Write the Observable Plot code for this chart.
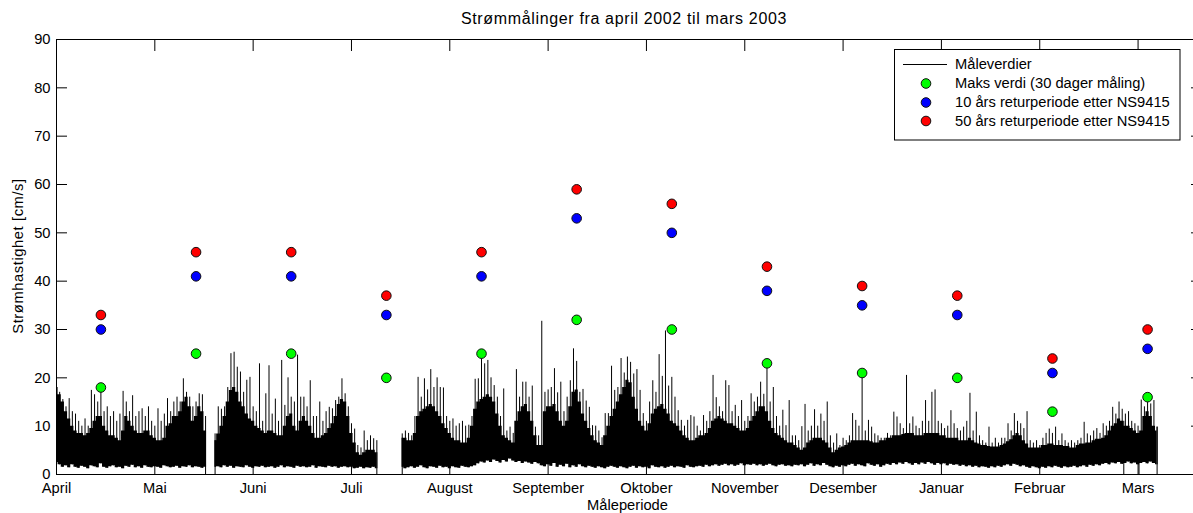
<!DOCTYPE html>
<html>
<head>
<meta charset="utf-8">
<script src="https://cdn.jsdelivr.net/npm/d3@7"></script>
<script src="https://cdn.jsdelivr.net/npm/@observablehq/plot@0.6"></script>
<style>
  body { margin: 0; background: #fff; }
  #wrap { position: relative; width: 1193px; height: 513px; overflow: hidden; background: #fff; }
  #wrap svg { position: absolute; left: 0; top: 0; }
</style>
</head>
<body>
<div id="wrap"></div>
<script>
// ---------------- data ----------------
const titleText = "Strømmålinger fra april 2002 til mars 2003";
const xLabel = "Måleperiode";
const yLabel = "Strømhastighet [cm/s]";

const monthLabels = ["April","Mai","Juni","Juli","August","September","Oktober","November","Desember","Januar","Februar","Mars"];
const monthTickDays = [0, 31, 62, 93, 124, 155, 186, 217, 248, 279, 310, 341];
const yTicks = [0, 10, 20, 30, 40, 50, 60, 70, 80, 90];

// 30-day windows: centre day, max measured, 10-yr and 50-yr return values
const windowDays = [14, 44, 74, 104, 134, 164, 194, 224, 254, 284, 314, 344];
const maxValue  = [18, 25, 25, 20, 25, 32, 30, 23, 21, 20, 13, 16];
const return10  = [30, 41, 41, 33, 41, 53, 50, 38, 35, 33, 21, 26];
const return50  = [33, 46, 46, 37, 46, 59, 56, 43, 39, 37, 24, 30];

const legendLabels = ["Måleverdier", "Maks verdi (30 dager måling)", "10 års returperiode etter NS9415", "50 års returperiode etter NS9415"];

// measured series, read per day: top of dense band, daily peak, daily minimum
const seg1Start = 0;
const seg1Top = [18,16.5,15,13,11.5,10,9,8.5,8.5,8, 8.5,9.5,11,12,12,10,9,8,8,7.5, 7,9,12,11,10,9,8.5,8.5,9,9, 8,7.5,7,7,7.5,10,10.5,12,12,13, 15,16,14,11,12,14,13,9];
const seg1Max = [18.4,17,15.5,14,15.7,13,12.5,11,10,11.5, 10,17.4,16.5,15,17.7,13,14,12,13,11, 12.5,17.2,15,13,16.3,12,13,13.6,12,14, 11,10,13.6,11,12.5,15.7,13,15,16,15, 19.8,17,16,14,15,16.7,16.5,12];
const seg1Min = [2.5,2,1.5,1.8,1.4,2,1.5,1.3,1.7,1.5, 1.2,1.8,1.6,1.4,2.2,1.5,1.3,1.6,1.8,1.4, 1.5,1.2,1.7,1.5,1.9,1.4,1.6,1.3,1.8,1.5, 1.4,1.6,1.5,1.3,1.8,1.6,1.4,1.5,1.7,1.3, 1.6,1.5,1.8,1.4,1.6,1.5,1.3,1.5];

const seg2Start = 50;
const seg2Top = [7,8.4,10,12,15,17.4,18,17,15,14, 12.5,11.5,11,10,9.5,9,8.5,9,9,8.5, 8,8,10,12,12.5,10,9,11,12,11, 10,8.5,7.5,7.5,8,8.5,9.5,10.5,12,14.5, 15.5,15,12,8.5,6.5,4.5,4,4.5,5,5, 5,4.5];
const seg2Max = [8.4,14,13.5,14,18,25,25.3,22.2,21.2,17, 19.5,20.1,14,13,22.9,11,16.7,22.5,12.5,15.6, 11,23.6,14.3,20,16,15,24.7,16,16,14, 19.4,12,12,15,11,13,13.9,13.6,15.3,16, 19.8,16.7,14,10.5,9.4,6,5.5,9,7,8, 7.4,7];
const seg2Min = [1.5,1.6,1.4,1.8,1.5,1.7,1.3,1.6,1.5,1.4, 1.8,1.5,1.3,1.6,1.5,1.7,1.4,1.5,1.6,1.3, 1.5,1.8,1.4,1.6,1.5,1.3,1.7,1.5,1.6,1.4, 1.5,1.8,1.3,1.6,1.5,1.4,1.7,1.5,1.6,1.3, 1.5,1.6,1.4,1.5,1.2,1.3,1.5,1.2,1.4,1.3, 1.5,1.2];

const seg3Start = 109;
const seg3Top = [
  7.5,7.5,7,7,8.5,12,13,13.5,14,14.5,
  14,13,12,10.5,9.5,8.5,7.5,7,7,6.5,
  6.5,7.5,10,13.5,15,15.5,16,16.5,16,15,
  12.5,10,8,7.5,7,6.5,11,13,14,14.5,
  13,11,8,6,6,13,14,14,14.5,13,
  11,10,11,14,17,17.5,15,12.5,11,9.5,
  8,7,6.5,6,8,10,12,13.5,15,16.5,
  18,19.5,19,16,13.5,11,10,9,10.5,12.5,
  13.5,14,14.5,13.5,12.5,11,10.5,10,9,8,
  7.5,7,7,7.5,8,8,8.5,9.5,11,11.5,
  12,11.5,11,10.5,10.5,10,9.5,9,9,9.5,
  11,12,13,14,14,13,11,9.5,8.5,8,
  7.5,7,6.5,6.5,6,5.5,5,5.5,6.5,7,
  7.5,7.5,7.5,7,6.5,5.5,4.5,5,5.5,5.7,
  6,6.5,7,7,7,7,7,7,6.8,6.5,
  6.5,7,7,7.5,7.5,8,8,8,8.3,8.5,
  8.5,8.5,8,8,8,8.5,8.5,8.5,8.5,8.5,
  8,8,7.5,7.5,7.5,7.5,7,7,7,7.5,
  7,6.5,6.3,6,6,5.8,5.7,5.7,5.7,6,
  6.3,6.8,7.2,8,8.5,8,7,6.3,5.5,5.5,
  5.5,5.5,6,6,6.3,6.3,6,6,6,5.8,
  5.8,5.5,5.5,6,6.3,6.3,6.5,6.5,7,7.3,
  7.3,7.5,8,9,10,10.5,11.5,11,10,10,
  9.5,9,8.5,9,12,13,12,10,9];
const seg3Max = [
  8.4,9,8.5,8,12,20.1,16,19.8,17.5,21.7,
  18,20,18,17.9,12,11,11.5,10,10.5,11,
  10,10.2,12,19.7,19.8,24.5,22.9,23.6,20,18.4,
  16,12,17.7,9,9.8,8.5,21.7,16,19.1,19.1,
  16,18.3,9.8,8,31.7,17,17.5,18,21.9,16.9,
  19.1,13,16,19.4,26,23.4,17,17.6,15.2,13.9,
  10.1,10,9,7.6,12.6,12.6,22.4,17.4,18,24,
  21,24.3,23.2,20.8,21.7,17.4,12.6,11,15,19.4,
  17,24.8,20.3,29.7,18.3,20.1,16,13.2,11.2,10,
  11.2,12.2,11.9,10,9,12.2,11,13,20.5,15.9,
  14,13,19.4,18.4,13,14.3,12,15.3,11,12,
  16.7,15,16,19.1,16.6,23,15,18,12,10,
  13.3,10.1,15.3,8,8,7,9.9,14.5,9,10,
  13.4,10,12.5,11,15,8,6.5,8.4,6,7.5,
  7,8,12.6,11.2,10,21,9,11.2,9.8,8.4,
  8,7.5,7.5,8.5,8,12.9,11.9,10.5,9.5,20.5,
  10.5,11.9,10,9.5,11,15.3,11,17,17.5,11,
  10.5,9.5,10,13.2,10.5,9.5,9,9.8,11,16.8,
  9,12.9,8,7,6.5,9.8,6.5,7.5,6.5,7.5,
  7.5,10.5,9,12.6,11,10.5,9.5,13,7,6.5,
  7,6,7.5,8.5,9.4,8.5,9.8,7,8.4,7,
  6.5,7,6.5,7,7.5,10.8,8.4,8,9,9.5,
  8.5,10.5,10,11,13.9,12.5,15,13.5,12.5,13,
  11,10.5,10,15.4,14,15.7,14.6,15.3,9.8];
const seg3Min = [
  1.5,1.2,1.4,1.6,1.3,1.5,1.8,1.4,1.2,1.6, 1.5,1.3,1.7,1.4,1.5,1.2,1.6,1.4,1.3,1.7, 1.5,1.4,1.6,1.8,
  2.2,2.6,2.4,2.8,2.5,3.0,2.7,2.4,2.9,2.6, 3.2,2.8,2.5,2.7,2.3,2.6,2.4,2.1,2.5,2.2,
  1.8,1.6,2.0,1.7,2.3,1.5,1.9,1.6,2.1,1.4, 1.8,1.5,2.0,1.6,1.4,1.7,1.5,1.3,1.6,1.4, 1.2,1.5,1.7,
  1.5,1.3,1.6,1.4,1.2,1.5,1.7,1.3,1.6,1.4, 1.5,1.2,1.8,1.5,1.4,1.6,1.3,1.5,1.7,1.4,
  1.6,1.5,1.3,1.8,1.5,1.4,1.6,1.7,1.5,1.9, 1.6,1.8,2.0,1.7,1.9,2.1,1.8,2.0,1.7,1.9,
  2.2,1.8,2.0,1.9,2.1,1.8,2.0,1.7,1.9,2.1, 1.8,1.6,1.9,2.0,1.7,1.8,1.6,1.9,
  1.8,2.0,1.6,1.9,2.2,1.7,2.0,1.8,2.3,1.9, 1.6,1.4,1.7,1.5,1.8,1.6,1.9,2.1,1.7,2.0,
  1.8,1.6,2.2,1.9,1.7,2.0,1.5,1.8,2.1,1.9, 2.3,2.0,2.4,2.1,2.5,2.2,1.9,2.3,2.0,2.4,
  2.1,2.5,2.2,1.9,2.3,2.0,2.2,1.8,2.1,1.9, 2.0,1.7,1.9,1.6,1.8,1.5,1.7,1.4,1.6,1.5,
  1.3,1.6,1.4,1.7,1.5,1.8,2.0,1.7,2.1,1.9, 1.6,1.8,1.5,1.3,1.6,1.4,1.2,1.5,1.3,1.6,
  1.4,1.7,1.5,1.3,1.6,1.4,1.5,1.7,1.4,1.6, 1.8,1.5,1.9,1.7,2.0,1.8,2.1,2.3,2.0,2.4,
  2.2,2.5,2.1,2.3,2.6,2.2,2.4,2.0,2.3,2.5, 2.2,2.6,2.3,2.0];

// instants where the record drops to zero (segment edges and dropouts)
const dropDays = [47, 50, 101, 109, 336.5, 341.3, 347];
const dropTops = [9, 7, 4.5, 7.5, 11, 8.5, 9.8];

// ---------------- build ----------------
const segments = [
  {start: seg1Start, top: seg1Top, max: seg1Max, min: seg1Min},
  {start: seg2Start, top: seg2Top, max: seg2Max, min: seg2Min},
  {start: seg3Start, top: seg3Top, max: seg3Max, min: seg3Min}
];
const series = segments.flatMap((s, k) =>
  s.top.map((t, i) => ({seg: k, day: s.start + i, top: t, max: s.max[i], min: s.min[i]})));
const drops = dropDays.map((d, i) => ({day: d, top: dropTops[i]}));
const windows = windowDays.map((d, i) => ({day: d, maks: maxValue[i], r10: return10[i], r50: return50[i]}));
const labelByDay = new Map(monthTickDays.map((d, i) => [d, monthLabels[i]]));

const FONT = "'Liberation Sans', Arial, Helvetica, sans-serif";
const FS = 14.7;

const chart = Plot.plot({
  width: 1193,
  height: 513,
  marginTop: 39,
  marginBottom: 39,
  marginLeft: 56,
  marginRight: -8,
  style: {fontFamily: FONT, fontSize: FS + "px", color: "#000", background: "#fff"},
  x: {domain: [0, 361]},
  y: {domain: [0, 90]},
  marks: [
    Plot.areaY(series, {x: "day", y1: "min", y2: "top", z: "seg", fill: "#000", curve: "step"}),
    Plot.ruleX(series, {x: "day", y1: "min", y2: "max", stroke: "#000", strokeWidth: 1}),
    Plot.ruleX(drops, {x: "day", y1: 0, y2: "top", stroke: "#000", strokeWidth: 1}),
    Plot.frame({stroke: "#000", strokeWidth: 1}),
    Plot.axisY({ticks: yTicks, anchor: "left", tickSize: 0, tickPadding: 6, label: null, fontSize: FS}),
    Plot.axisY({ticks: yTicks, anchor: "left", tickSize: -11, fill: "none", label: null}),
    Plot.axisY({ticks: yTicks, anchor: "right", tickSize: -11, fill: "none", label: null}),
    Plot.axisX({ticks: monthTickDays, anchor: "bottom", tickSize: 0, tickPadding: 8, tickFormat: d => labelByDay.get(d), label: null, fontSize: FS}),
    Plot.axisX({ticks: monthTickDays, anchor: "bottom", tickSize: -11, fill: "none", label: null}),
    Plot.axisX({ticks: monthTickDays, anchor: "top", tickSize: -11, fill: "none", label: null}),
    Plot.dot(windows, {x: "day", y: "maks", r: 4.8, fill: "#00ff00", stroke: "#111", strokeWidth: 1}),
    Plot.dot(windows, {x: "day", y: "r10", r: 4.8, fill: "#0000ff", stroke: "#111", strokeWidth: 1}),
    Plot.dot(windows, {x: "day", y: "r50", r: 4.8, fill: "#ff0000", stroke: "#111", strokeWidth: 1})
  ]
});
document.getElementById("wrap").appendChild(chart);

// ---------------- overlay: title, axis labels, legend ----------------
const ov = d3.select("#wrap").append("svg")
  .attr("width", 1193).attr("height", 513)
  .style("font-family", FONT).style("pointer-events", "none");

ov.append("text").attr("x", 624).attr("y", 23.6).attr("text-anchor", "middle")
  .attr("font-size", 16).attr("letter-spacing", "0.65px").attr("fill", "#000").text(titleText);
ov.append("text").attr("x", 627.5).attr("y", 510).attr("text-anchor", "middle")
  .attr("font-size", FS).attr("fill", "#000").text(xLabel);
ov.append("text").attr("transform", "translate(23,256) rotate(-90)").attr("text-anchor", "middle")
  .attr("font-size", FS).attr("letter-spacing", "0.6px").attr("fill", "#000").text(yLabel);

const lg = ov.append("g");
lg.append("rect").attr("x", 894.5).attr("y", 49.5).attr("width", 285.5).attr("height", 90.5)
  .attr("fill", "#fff").attr("stroke", "#000").attr("stroke-width", 1);
const rowY = [64.5, 83.5, 102.5, 121];
const rowColor = [null, "#00ff00", "#0000ff", "#ff0000"];
legendLabels.forEach((lab, i) => {
  if (i === 0) {
    lg.append("line").attr("x1", 903).attr("x2", 947).attr("y1", rowY[i]).attr("y2", rowY[i])
      .attr("stroke", "#000").attr("stroke-width", 1);
  } else {
    lg.append("circle").attr("cx", 926).attr("cy", rowY[i]).attr("r", 4.8)
      .attr("fill", rowColor[i]).attr("stroke", "#111").attr("stroke-width", 1);
  }
  lg.append("text").attr("x", 955).attr("y", rowY[i] + 4.8).attr("font-size", FS)
    .attr("fill", "#000").text(lab);
});
</script>
</body>
</html>
